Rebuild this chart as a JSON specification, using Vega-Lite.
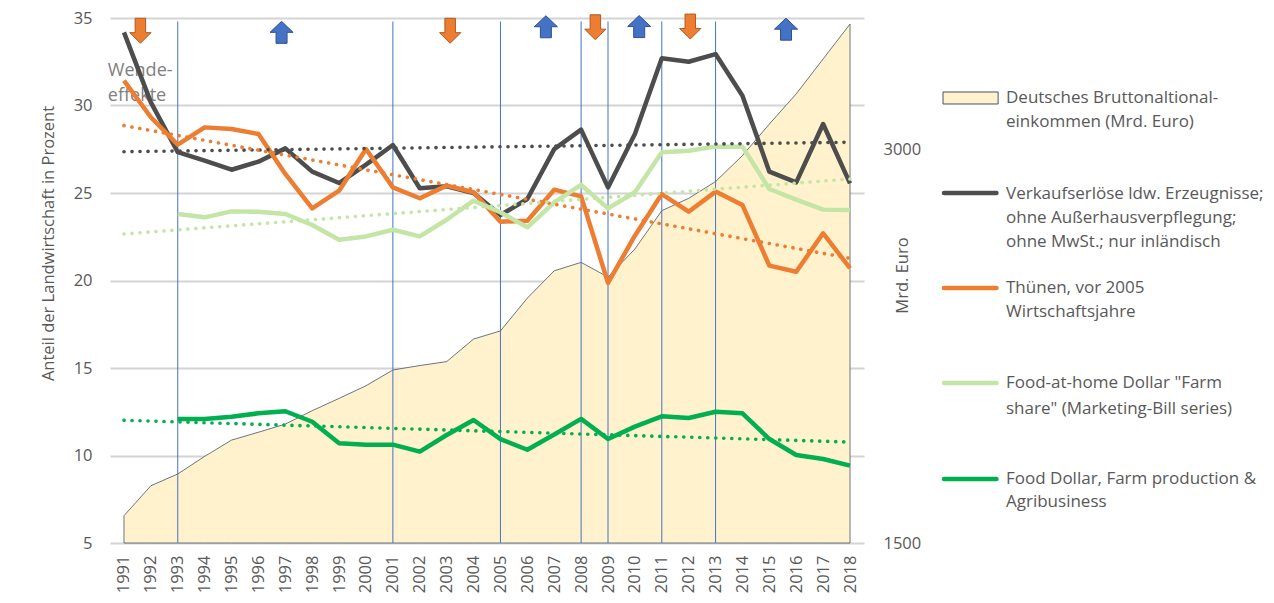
{
  "$schema": "https://vega.github.io/schema/vega-lite/v6.json",
  "padding": {"left": 40, "top": 10, "right": 5, "bottom": 5},
  "config": {
    "font": "Open Sans",
    "view": {"stroke": null},
    "axis": {"labelColor": "#595959", "titleColor": "#595959", "labelFontSize": 16.5, "titleFontSize": 16.5, "titleFontWeight": "normal", "ticks": false, "domain": false}
  },
  "datasets": {
    "main": [
      {"year": 1991, "verk": 34.18, "thuenen": 31.42, "fah": null, "fd": null, "bne": 1604},
      {"year": 1992, "verk": 30.18, "thuenen": 29.33, "fah": null, "fd": null, "bne": 1718},
      {"year": 1993, "verk": 27.33, "thuenen": 27.76, "fah": 23.8, "fd": 12.09, "bne": 1763},
      {"year": 1994, "verk": 26.85, "thuenen": 28.75, "fah": 23.61, "fd": 12.09, "bne": 1830},
      {"year": 1995, "verk": 26.33, "thuenen": 28.66, "fah": 23.95, "fd": 12.22, "bne": 1892},
      {"year": 1996, "verk": 26.79, "thuenen": 28.37, "fah": 23.93, "fd": 12.41, "bne": 1922},
      {"year": 1997, "verk": 27.55, "thuenen": 26.09, "fah": 23.8, "fd": 12.53, "bne": 1953},
      {"year": 1998, "verk": 26.22, "thuenen": 24.12, "fah": 23.17, "fd": 11.93, "bne": 2004},
      {"year": 1999, "verk": 25.57, "thuenen": 25.13, "fah": 22.33, "fd": 10.7, "bne": 2051},
      {"year": 2000, "verk": 26.62, "thuenen": 27.51, "fah": 22.52, "fd": 10.62, "bne": 2099},
      {"year": 2001, "verk": 27.74, "thuenen": 25.32, "fah": 22.9, "fd": 10.62, "bne": 2159},
      {"year": 2002, "verk": 25.27, "thuenen": 24.7, "fah": 22.52, "fd": 10.22, "bne": 2176},
      {"year": 2003, "verk": 25.38, "thuenen": 25.42, "fah": 23.47, "fd": 11.17, "bne": 2191},
      {"year": 2004, "verk": 25.0, "thuenen": 25.04, "fah": 24.56, "fd": 12.03, "bne": 2277},
      {"year": 2005, "verk": 23.74, "thuenen": 23.36, "fah": 23.9, "fd": 10.94, "bne": 2308},
      {"year": 2006, "verk": 24.66, "thuenen": 23.42, "fah": 23.04, "fd": 10.33, "bne": 2433},
      {"year": 2007, "verk": 27.51, "thuenen": 25.19, "fah": 24.47, "fd": 11.2, "bne": 2537},
      {"year": 2008, "verk": 28.62, "thuenen": 24.81, "fah": 25.46, "fd": 12.09, "bne": 2569},
      {"year": 2009, "verk": 25.32, "thuenen": 19.86, "fah": 24.12, "fd": 10.94, "bne": 2513},
      {"year": 2010, "verk": 28.37, "thuenen": 22.56, "fah": 25.04, "fd": 11.65, "bne": 2620},
      {"year": 2011, "verk": 32.7, "thuenen": 24.94, "fah": 27.33, "fd": 12.24, "bne": 2766},
      {"year": 2012, "verk": 32.5, "thuenen": 23.93, "fah": 27.42, "fd": 12.14, "bne": 2813},
      {"year": 2013, "verk": 32.94, "thuenen": 25.08, "fah": 27.65, "fd": 12.5, "bne": 2877},
      {"year": 2014, "verk": 30.56, "thuenen": 24.31, "fah": 27.65, "fd": 12.41, "bne": 2976},
      {"year": 2015, "verk": 26.22, "thuenen": 20.85, "fah": 25.23, "fd": 10.94, "bne": 3096},
      {"year": 2016, "verk": 25.61, "thuenen": 20.5, "fah": 24.62, "fd": 10.03, "bne": 3211},
      {"year": 2017, "verk": 28.94, "thuenen": 22.7, "fah": 24.05, "fd": 9.8, "bne": 3344},
      {"year": 2018, "verk": 25.55, "thuenen": 20.7, "fah": 24.03, "fd": 9.42, "bne": 3477}
    ],
    "trend": [
      {"series": "verk", "year": 1991, "value": 27.36},
      {"series": "verk", "year": 2018, "value": 27.9},
      {"series": "thuenen", "year": 1991, "value": 28.85},
      {"series": "thuenen", "year": 2018, "value": 21.27},
      {"series": "fah", "year": 1991, "value": 22.66},
      {"series": "fah", "year": 2018, "value": 25.8},
      {"series": "fd", "year": 1991, "value": 12.01},
      {"series": "fd", "year": 2018, "value": 10.77}
    ],
    "markers": [
      {"year": 1993}, {"year": 2001}, {"year": 2005}, {"year": 2008},
      {"year": 2009}, {"year": 2011}, {"year": 2013}
    ],
    "arrows": [
      {"year": 1991.61, "y": 34.27, "dir": "down"},
      {"year": 2003.13, "y": 34.27, "dir": "down"},
      {"year": 2008.53, "y": 34.47, "dir": "down"},
      {"year": 2012.06, "y": 34.51, "dir": "down"},
      {"year": 1996.86, "y": 34.18, "dir": "up"},
      {"year": 2006.69, "y": 34.5, "dir": "up"},
      {"year": 2010.16, "y": 34.51, "dir": "up"},
      {"year": 2015.62, "y": 34.36, "dir": "up"}
    ],
    "notes": [
      {"year": 1990.4, "y": 31.99, "label": "Wende-"},
      {"year": 1990.4, "y": 30.56, "label": "effekte"}
    ],
    "legSwatch": [
      {"x0": 0.6, "x1": 17.1, "y0": 3.083, "y1": 3.583}
    ],
    "legLines": [
      {"series": "verk", "pos": 7.29},
      {"series": "thuenen", "pos": 11.25},
      {"series": "fah", "pos": 15.21},
      {"series": "fd", "pos": 19.21}
    ],
    "legText": [
      {"label": "Deutsches Bruttonaltional-", "pos": 3.333},
      {"label": "einkommen (Mrd. Euro)", "pos": 4.333},
      {"label": "Verkaufserlöse ldw. Erzeugnisse;", "pos": 7.33},
      {"label": "ohne Außerhausverpflegung;", "pos": 8.33},
      {"label": "ohne MwSt.; nur inländisch", "pos": 9.33},
      {"label": "Thünen, vor 2005", "pos": 11.25},
      {"label": "Wirtschaftsjahre", "pos": 12.25},
      {"label": "Food-at-home Dollar \"Farm", "pos": 15.21},
      {"label": "share\" (Marketing-Bill series)", "pos": 16.29},
      {"label": "Food Dollar, Farm production &", "pos": 19.21},
      {"label": "Agribusiness", "pos": 20.17}
    ]
  },
  "hconcat": [
    {
      "width": 754,
      "height": 525,
      "encoding": {
        "x": {
          "field": "year", "type": "quantitative",
          "scale": {"domain": [1990.48, 2018.52], "nice": false, "zero": false},
          "axis": {
            "values": [1991,1992,1993,1994,1995,1996,1997,1998,1999,2000,2001,2002,2003,2004,2005,2006,2007,2008,2009,2010,2011,2012,2013,2014,2015,2016,2017,2018],
            "format": "d", "labelAngle": -90, "labelPadding": 12, "grid": false, "title": null, "labelOverlap": false
          }
        }
      },
      "layer": [
        {
          "data": {"name": "notes"},
          "mark": {"type": "text", "align": "left", "baseline": "middle", "fontSize": 18, "color": "#808080"},
          "encoding": {
            "y": {"field": "y", "type": "quantitative", "scale": {"domain": [5, 35], "nice": false, "zero": false},
              "axis": {"orient": "left", "values": [5, 10, 15, 20, 25, 30, 35], "grid": true, "gridColor": "#D4D4D4", "gridWidth": 1.8, "gridOpacity": 1, "labelPadding": 18, "title": "Anteil der Landwirtschaft in Prozent", "titleX": -62, "titleY": 225, "titleAlign": "center", "titleBaseline": "middle"}},
            "text": {"field": "label"}
          }
        },
        {
          "data": {"name": "main"},
          "mark": {"type": "area", "fill": "#FFF2CC", "stroke": "#44546A", "strokeWidth": 0.8},
          "encoding": {
            "y": {
              "field": "bne", "type": "quantitative",
              "scale": {"domain": [1500, 3500], "nice": false, "zero": false},
              "axis": {"orient": "right", "values": [1500, 3000], "format": "d", "grid": false, "labelPadding": 19, "title": "Mrd. Euro", "titleAngle": 270, "titleX": 38, "titleY": 257, "titleAlign": "center", "titleBaseline": "middle"}
            },
            "y2": {"datum": 1500}
          }
        },
        {
          "layer": [
            {
              "data": {"name": "markers"},
              "mark": {"type": "rule", "color": "#4472C4", "strokeWidth": 1},
              "encoding": {
                "y": {"datum": 5, "type": "quantitative", "scale": {"domain": [5, 35], "nice": false, "zero": false}, "axis": null},
                "y2": {"datum": 34.8}
              }
            },
            {
              "data": {"name": "main"},
              "transform": [{"fold": ["verk", "thuenen", "fah", "fd"], "as": ["series", "value"]}],
              "mark": {"type": "line", "strokeWidth": 4.5, "strokeJoin": "round"},
              "encoding": {
                "y": {"field": "value", "type": "quantitative", "scale": {"domain": [5, 35], "nice": false, "zero": false}, "axis": null},
                "color": {"field": "series", "type": "nominal", "legend": null, "scale": {"domain": ["verk", "thuenen", "fah", "fd"], "range": ["#4D4D4D", "#ED7D31", "#C3E5A5", "#00B050"]}}
              }
            },
            {
              "data": {"name": "trend"},
              "mark": {"type": "line", "strokeWidth": 3.6, "strokeDash": [0.1, 7.9], "strokeCap": "round"},
              "encoding": {
                "y": {"field": "value", "type": "quantitative", "scale": {"domain": [5, 35], "nice": false, "zero": false}, "axis": null},
                "color": {"field": "series", "type": "nominal", "legend": null, "scale": {"domain": ["verk", "thuenen", "fah", "fd"], "range": ["#4D4D4D", "#ED7D31", "#C3E5A5", "#00B050"]}}
              }
            },
            {
              "data": {"name": "arrows"},
              "transform": [{"filter": "datum.dir === 'down'"}],
              "mark": {"type": "point", "shape": "M-0.42,-1L0.42,-1L0.42,0.15L0.85,0.15L0,1L-0.85,0.15L-0.42,0.15Z", "size": 625, "filled": true, "fill": "#ED7D31", "stroke": "#AE5A21", "strokeWidth": 1, "opacity": 1},
              "encoding": {
                "y": {"field": "y", "type": "quantitative", "scale": {"domain": [5, 35], "nice": false, "zero": false}, "axis": null}
              }
            },
            {
              "data": {"name": "arrows"},
              "transform": [{"filter": "datum.dir === 'up'"}],
              "mark": {"type": "point", "shape": "M-0.5,1L0.5,1L0.5,0L1.05,0L0,-1L-1.05,0L-0.5,0Z", "size": 484, "filled": true, "fill": "#4472C4", "stroke": "#2F528F", "strokeWidth": 1, "opacity": 1},
              "encoding": {
                "y": {"field": "y", "type": "quantitative", "scale": {"domain": [5, 35], "nice": false, "zero": false}, "axis": null}
              }
            }
          ]
        }
      ],
      "resolve": {"scale": {"y": "independent"}}
    },
    {
      "width": 334,
      "height": 525,
      "layer": [
        {
          "data": {"name": "legSwatch"},
          "mark": {"type": "rect", "fill": "#FFF2CC", "stroke": "#44546A", "strokeWidth": 1},
          "encoding": {
            "x": {"field": "x0", "type": "quantitative", "scale": {"domain": [0, 100], "nice": false}, "axis": null},
            "x2": {"field": "x1"},
            "y": {"field": "y0", "type": "quantitative", "scale": {"domain": [0, 21.875], "nice": false, "reverse": true}, "axis": null},
            "y2": {"field": "y1"}
          }
        },
        {
          "data": {"name": "legLines"},
          "mark": {"type": "rule", "strokeWidth": 4.5, "strokeCap": "round"},
          "encoding": {
            "x": {"datum": 0.9, "type": "quantitative", "scale": {"domain": [0, 100], "nice": false}, "axis": null},
            "x2": {"datum": 16.6},
            "y": {"field": "pos", "type": "quantitative", "scale": {"domain": [0, 21.875], "nice": false, "reverse": true}, "axis": null},
            "color": {"field": "series", "type": "nominal", "legend": null, "scale": {"domain": ["verk", "thuenen", "fah", "fd"], "range": ["#4D4D4D", "#ED7D31", "#C3E5A5", "#00B050"]}}
          }
        },
        {
          "data": {"name": "legText"},
          "mark": {"type": "text", "align": "left", "baseline": "middle", "fontSize": 17, "color": "#595959"},
          "encoding": {
            "x": {"datum": 19.46, "type": "quantitative", "scale": {"domain": [0, 100], "nice": false}, "axis": null},
            "y": {"field": "pos", "type": "quantitative", "scale": {"domain": [0, 21.875], "nice": false, "reverse": true}, "axis": null},
            "text": {"field": "label"}
          }
        }
      ]
    }
  ],
  "spacing": 77,
  "bounds": "flush"
}
